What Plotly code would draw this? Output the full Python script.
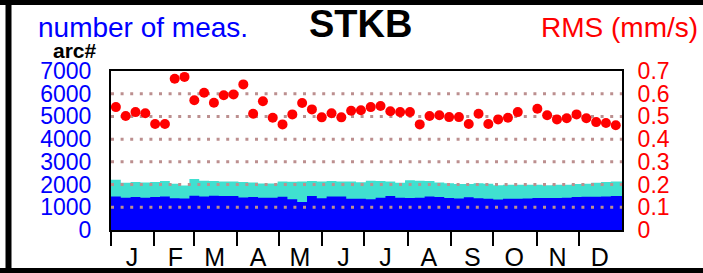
import plotly.graph_objects as go
import pandas as pd

# ---------------- data ----------------
months = ["J", "F", "M", "A", "M", "J", "J", "A", "S", "O", "N", "D"]
month_starts = pd.date_range("2010-01-01", periods=12, freq="MS")
month_mids = month_starts + pd.Timedelta(days=15)

week_start = pd.date_range("2010-01-01", periods=52, freq="7D")

# weekly RMS (mm/s); one missing week in October
rms = [0.541, 0.502, 0.519, 0.514, 0.467, 0.467, 0.666, 0.674, 0.571, 0.604,
       0.560, 0.593, 0.597, 0.641, 0.512, 0.567, 0.494, 0.465, 0.509, 0.559,
       0.531, 0.496, 0.514, 0.496, 0.525, 0.527, 0.541, 0.546, 0.523, 0.519,
       0.519, 0.465, 0.502, 0.505, 0.497, 0.497, 0.467, 0.512, 0.467, 0.487,
       0.494, 0.519, None, 0.534, 0.505, 0.487, 0.492, 0.509, 0.492, 0.475,
       0.471, 0.461]

# number of measurements (total, turquoise) and arcs part (blue)
n_total = [2214, 2085, 2113, 2090, 2110, 2160, 2040, 1960, 2245, 2170,
           2160, 2140, 2140, 2110, 2090, 2050, 2050, 2140, 2120, 2130,
           2160, 2130, 2160, 2140, 2140, 2100, 2170, 2160, 2140, 2080,
           2185, 2170, 2160, 2090, 2055, 2030, 2030, 2055, 2040, 1970,
           1995, 1995, 1995, 1995, 1975, 1990, 1995, 2020, 2040, 2080,
           2110, 2140]
n_blue = [1480, 1420, 1450, 1420, 1450, 1480, 1400, 1390, 1510, 1480,
          1510, 1500, 1497, 1430, 1450, 1420, 1420, 1465, 1350, 1230,
          1497, 1400, 1480, 1480, 1380, 1380, 1350, 1420, 1497, 1420,
          1410, 1420, 1480, 1450, 1410, 1385, 1440, 1400, 1380, 1340,
          1380, 1380, 1390, 1410, 1410, 1410, 1420, 1450, 1460, 1465,
          1480, 1497]

gap_start = pd.Timestamp("2010-10-25")
gap_end = pd.Timestamp("2010-10-27")
year_end = pd.Timestamp("2011-01-01")

left_ticks = [0, 1000, 2000, 3000, 4000, 5000, 6000, 7000]
right_ticks = [0, 0.1, 0.2, 0.3, 0.4, 0.5, 0.6, 0.7]
right_text = ["0", "0.1", "0.2", "0.3", "0.4", "0.5", "0.6", "0.7"]
grid_vals = [0.1, 0.2, 0.3, 0.4, 0.5, 0.6]

# ---------------- helpers ----------------
def steps(vals):
    xs, ys = [], []
    for k, v in enumerate(vals):
        s = week_start[k]
        e = week_start[k + 1] if k + 1 < len(vals) else year_end
        xs.append(s); ys.append(v)
        if s < gap_start < e:
            xs += [gap_start, gap_start, gap_end]
            ys += [v, None, v]
    xs.append(year_end); ys.append(vals[-1])
    return xs, ys

FONT = "Liberation Sans, Arial, sans-serif"
BLUE = "#0000ff"
TURQ = "#40e0d0"
RED = "#ff0000"

fig = go.Figure()

tx, ty = steps(n_total)
fig.add_trace(go.Scatter(x=tx, y=ty, mode="lines", line=dict(width=0, shape="hv"),
                         fill="tozeroy", fillcolor=TURQ, connectgaps=False,
                         hoverinfo="skip", showlegend=False))
bx, by = steps(n_blue)
fig.add_trace(go.Scatter(x=bx, y=by, mode="lines", line=dict(width=0, shape="hv"),
                         fill="tozeroy", fillcolor=BLUE, connectgaps=False,
                         hoverinfo="skip", showlegend=False))

# dotted grid lines (drawn above the bars)
gx, gy = [], []
for g in grid_vals:
    gx += [pd.Timestamp("2010-01-01"), year_end, None]
    gy += [g, g, None]
fig.add_trace(go.Scatter(x=gx, y=gy, yaxis="y2", mode="lines",
                         line=dict(color="#bc8f8f", width=3, dash="3px,6.6px"),
                         hoverinfo="skip", showlegend=False))

centers = week_start + pd.Timedelta(hours=84)
fig.add_trace(go.Scatter(x=centers, y=rms, yaxis="y2", mode="markers",
                         marker=dict(color=RED, size=10, line=dict(width=0)),
                         showlegend=False, cliponaxis=False))

W, H = 703, 273
L, R, T, B = 111, 81, 71, 43
pw, ph = W - L - R, H - T - B
def px(x):
    return (x - L) / pw
def py(y):
    return (H - B - y) / ph

fig.update_layout(
    template="none",
    width=W, height=H, autosize=False,
    margin=dict(l=L, r=R, t=T, b=B, pad=0, autoexpand=False),
    paper_bgcolor="white", plot_bgcolor="white",
    font=dict(family=FONT),
    xaxis=dict(
        type="date", range=["2010-01-01", "2010-12-31 23:00"], automargin=False,
        tickmode="array", tickvals=list(month_mids), ticktext=months,
        ticks="outside", ticklen=4, tickcolor="rgba(0,0,0,0)",
        tickfont=dict(size=25, color="black", family=FONT),
        showgrid=False, zeroline=False,
        showline=True, linecolor="black", linewidth=2, mirror=True,
        minor=dict(ticks="outside", ticklen=14, tickwidth=2, tickcolor="black",
                   dtick="M1", tick0="2010-01-01", showgrid=False),
    ),
    yaxis=dict(
        range=[0, 7000], tickmode="array", tickvals=left_ticks, automargin=False,
        ticktext=[str(v) for v in left_ticks],
        ticks="outside", ticklen=13, tickcolor="rgba(0,0,0,0)",
        tickfont=dict(size=23, color=BLUE, family=FONT),
        showgrid=False, zeroline=False,
        showline=True, linecolor="black", linewidth=2, mirror=True,
    ),
    yaxis2=dict(
        range=[0, 0.7], overlaying="y", side="right", automargin=False,
        tickmode="array", tickvals=right_ticks, ticktext=right_text,
        ticks="outside", ticklen=10, tickcolor="rgba(0,0,0,0)",
        tickfont=dict(size=23, color=RED, family=FONT),
        showgrid=False, zeroline=False, showline=False,
    ),
    annotations=[
        dict(text="<b>STKB</b>", x=px(360), y=py(24), xref="paper", yref="paper",
             xanchor="center", yanchor="middle", showarrow=False,
             font=dict(size=38, color="black", family=FONT)),
        dict(text="number of meas.", x=px(36), y=py(27), xref="paper", yref="paper",
             xanchor="left", yanchor="middle", showarrow=False,
             font=dict(size=28, color=BLUE, family=FONT)),
        dict(text="RMS (mm/s)", x=px(700), y=py(27), xref="paper", yref="paper",
             xanchor="right", yanchor="middle", showarrow=False,
             font=dict(size=28, color=RED, family=FONT)),
        dict(text="<b>arc#</b>", x=px(75), y=py(50), xref="paper", yref="paper",
             xanchor="center", yanchor="middle", showarrow=False,
             font=dict(size=21, color="black", family=FONT)),
    ],
    shapes=[
        dict(type="rect", xref="paper", yref="paper", x0=px(-20), x1=px(730),
             y0=py(5), y1=py(-20), fillcolor="black", line=dict(width=0), layer="above"),
        dict(type="rect", xref="paper", yref="paper", x0=px(-20), x1=px(730),
             y0=py(290), y1=py(268), fillcolor="black", line=dict(width=0), layer="above"),
        dict(type="rect", xref="paper", yref="paper", x0=px(5.5), x1=px(11.5),
             y0=py(290), y1=py(-20), fillcolor="black", line=dict(width=0), layer="above"),
    ],
)

fig.write_html(
    "out.html",
    config={"displayModeBar": False},
    post_script="document.body.style.margin='0';document.body.style.overflow='hidden';",
)
